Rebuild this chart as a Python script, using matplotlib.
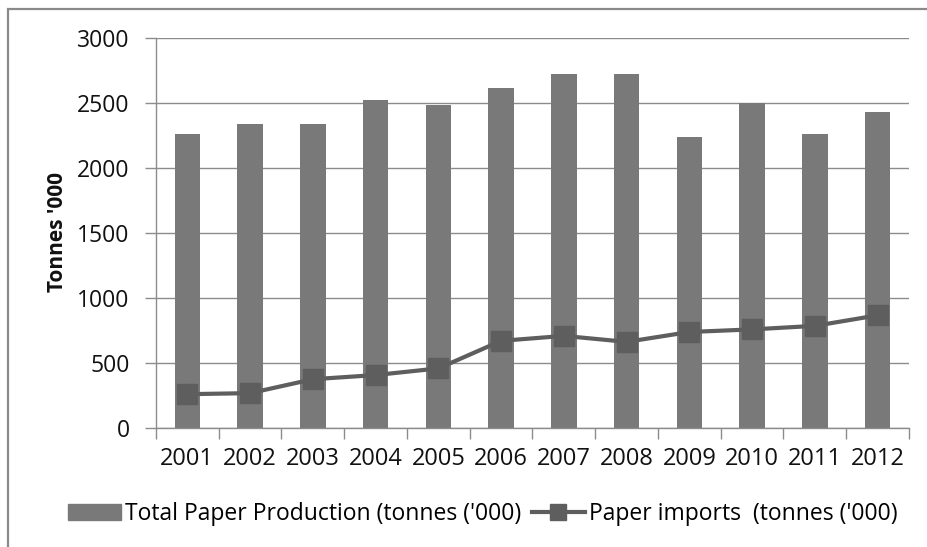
import matplotlib
matplotlib.use("Agg")
import matplotlib.pyplot as plt
from matplotlib.patches import Rectangle
from matplotlib.lines import Line2D
import numpy as np

years = ["2001", "2002", "2003", "2004", "2005", "2006",
         "2007", "2008", "2009", "2010", "2011", "2012"]
production = [2260, 2335, 2335, 2520, 2480, 2610, 2720, 2720, 2240, 2500, 2260, 2430]
imports = [260, 268, 375, 407, 458, 670, 708, 662, 738, 758, 785, 866]
y_ticks = [0, 500, 1000, 1500, 2000, 2500, 3000]

bar_color = "#797979"
line_color = "#5e5e5e"
grid_color = "#8c8c8c"

plt.rcParams["font.family"] = ["Open Sans", "DejaVu Sans"]

W, H = 928, 547
fig = plt.figure(figsize=(W / 100, H / 100), dpi=100)
fig.patch.set_facecolor("white")

# outer chart frame
fig.add_artist(Rectangle((8 / W, -0.1), 1.2, 1 - 9 / H + 0.1, transform=fig.transFigure,
                         fill=False, edgecolor="#8a8a8a", linewidth=1.6))

ax = fig.add_axes([156 / W, 1 - 428 / H, (909 - 156) / W, (428 - 37.7) / H])
x = np.arange(len(years))

ax.bar(x, production, width=0.41, color=bar_color, zorder=2,
       label="Total Paper Production (tonnes ('000)")
ax.plot(x, imports, color=line_color, linewidth=3.0, marker="s", markersize=14,
        markerfacecolor=line_color, markeredgecolor=line_color, zorder=3,
        label="Paper imports  (tonnes ('000)")

ax.set_xlim(-0.5, len(years) - 0.5)
ax.set_ylim(0, 3000)
ax.set_yticks(y_ticks)
ax.set_yticklabels([str(v) for v in y_ticks])
ax.yaxis.grid(True, color=grid_color, linewidth=1.0, zorder=0)
ax.set_axisbelow(True)

# category boundaries get tick marks, labels sit at the centres
ax.set_xticks(np.arange(-0.5, len(years), 1.0))
ax.set_xticklabels([])
ax.set_xticks(x, minor=True)
ax.set_xticklabels(years, minor=True)
ax.tick_params(axis="x", which="major", direction="out", length=8, color=grid_color, width=1)
ax.tick_params(axis="x", which="minor", length=0, pad=14, labelsize=17, labelcolor="#111111")
ax.tick_params(axis="y", direction="out", length=8, color=grid_color, width=1,
               pad=11, labelsize=16.5, labelcolor="#111111")

for side in ["top", "right"]:
    ax.spines[side].set_visible(False)
for side in ["left", "bottom"]:
    ax.spines[side].set_color(grid_color)
    ax.spines[side].set_linewidth(1.0)

fig.text(58 / W, 1 - 232 / H, "Tonnes '000", rotation=90, ha="center", va="center",
         fontsize=15, fontweight="bold", color="#111111")

handles = [Rectangle((0, 0), 1, 1, color=bar_color),
           Line2D([0], [0], color=line_color, linewidth=3.0, marker="s", markersize=11)]
labels = ["Total Paper Production (tonnes ('000)", "Paper imports  (tonnes ('000)"]
fig.legend(handles, labels, loc="center", bbox_to_anchor=(483 / W, 1 - 514 / H),
           ncol=2, frameon=False, handlelength=2.3, handletextpad=0.2,
           columnspacing=0.45, prop={"family": ["Open Sans", "DejaVu Sans"], "size": 16.5})

fig.savefig("out.png", dpi=100, facecolor="white")
